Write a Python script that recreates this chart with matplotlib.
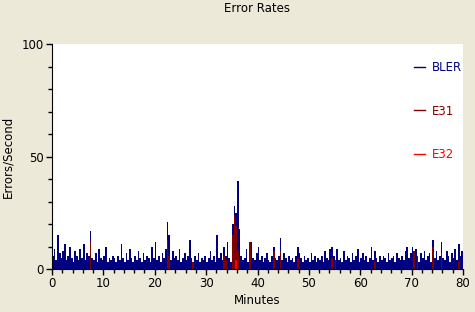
import matplotlib.pyplot as plt
import numpy as np
from matplotlib.ticker import MultipleLocator

# samples every 20 s (3 per minute), 0..80 min
bler = [
    6, 9, 4, 15, 7, 5, 8, 11, 4, 6, 10, 5,
    3, 8, 6, 4, 9, 5, 11, 4, 7, 6, 17, 5,
    4, 7, 3, 9, 5, 4, 6, 10, 3, 5, 4, 6,
    5, 3, 6, 4, 11, 5, 3, 7, 4, 9, 5, 3,
    6, 4, 8, 5, 3, 7, 4, 6, 5, 3, 10, 5,
    12, 4, 6, 3, 7, 5, 9, 21, 15, 4, 8, 5,
    6, 4, 9, 3, 5, 7, 4, 6, 13, 5, 3, 6,
    4, 7, 3, 5, 4, 6, 3, 5, 8, 4, 6, 3,
    15, 5, 7, 4, 10, 6, 12, 5, 3, 20, 28, 25,
    39, 18, 6, 4, 5, 9, 3, 6, 12, 5, 4, 7,
    10, 4, 6, 3, 5, 7, 4, 3, 6, 10, 5, 4,
    6, 14, 4, 7, 5, 3, 6, 4, 5, 3, 6, 10,
    7, 5, 3, 6, 4, 5, 3, 7, 4, 6, 3, 5,
    4, 6, 3, 8, 5, 4, 9, 10, 6, 3, 9, 4,
    5, 3, 8, 4, 6, 5, 3, 7, 4, 6, 9, 3,
    5, 7, 4, 6, 3, 5, 10, 4, 8, 5, 3, 6,
    4, 6, 5, 3, 7, 4, 5, 6, 3, 7, 5, 4,
    6, 4, 8, 10, 5, 7, 10, 4, 9, 6, 3, 7,
    5, 8, 4, 6, 7, 3, 13, 5, 8, 4, 6, 12,
    5, 4, 8, 6, 3, 7, 5, 9, 4, 11, 6, 8,
]
e31_idx = [22, 67, 68, 82, 100, 101, 105, 106, 107, 108, 115, 129, 133, 143,
           163, 165, 188, 211, 213, 222, 227, 237]
e31_val = [12, 13, 6, 3, 6, 4, 15, 24, 19, 8, 12, 8, 8, 5,
           5, 4, 3, 8, 6, 10, 7, 3]
e32_idx = [107]
e32_val = [4]

step = 1 / 3
t = np.arange(len(bler)) * step
e31 = np.zeros(len(bler))
e31[e31_idx] = e31_val
e32 = np.zeros(len(bler))
e32[e32_idx] = e32_val

bg = '#ECE9D8'
fig = plt.figure(figsize=(4.75, 3.12), dpi=100, facecolor=bg)
ax = fig.add_axes([52/475, 43/312, 411/475, 225/312])
ax.set_facecolor('white')

ax.bar(t, bler, width=step, align='edge', color='#000080', linewidth=0, label='BLER')
ax.bar(t, e31, width=step, align='edge', color='#800000', linewidth=0, label='E31')
ax.bar(t, e32, width=step, align='edge', color='#FF0000', linewidth=0, label='E32')

ax.set_xlim(0, 80)
ax.set_ylim(0, 100)
ax.xaxis.set_major_locator(MultipleLocator(10))
ax.xaxis.set_minor_locator(MultipleLocator(2))
ax.yaxis.set_major_locator(MultipleLocator(50))
ax.yaxis.set_minor_locator(MultipleLocator(10))
ax.tick_params(which='major', length=4, width=1, labelsize=8.5, pad=2)
ax.tick_params(which='minor', length=3, width=1)
for s in ['top', 'right']:
    ax.spines[s].set_visible(False)

ax.set_title('Error Rates', fontsize=8.5, pad=23)
ax.set_xlabel('Minutes', fontsize=8.5, labelpad=3)
ax.set_ylabel('Errors/Second', fontsize=8.5, labelpad=5)

handles = [plt.Line2D([], [], color=c, lw=1) for c in ['#000080', '#800000', '#FF0000']]
leg = ax.legend(handles, ['BLER', 'E31', 'E32'], loc='upper left',
                bbox_to_anchor=(0.855, 0.972), frameon=False, fontsize=8.5,
                handlelength=0.9, handletextpad=0.6, labelspacing=2.6,
                labelcolor='linecolor')

plt.savefig('out.png', dpi=100, facecolor=bg)
